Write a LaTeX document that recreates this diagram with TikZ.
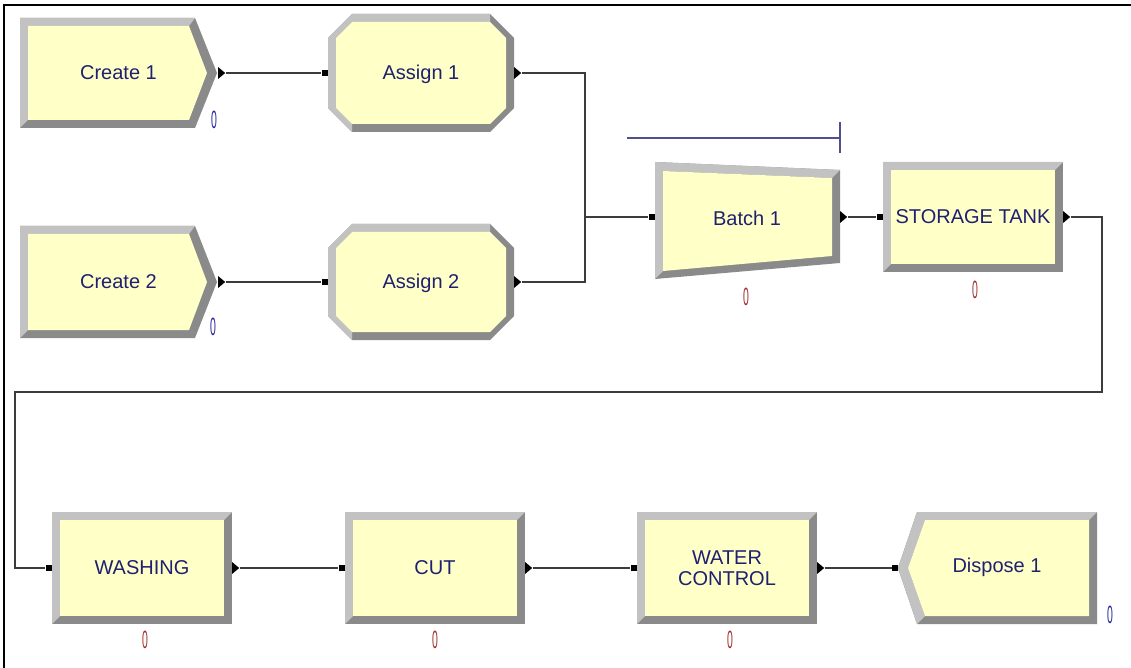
\documentclass[tikz,border=0pt]{standalone}
\usepackage{fontspec}
\setmainfont{Liberation Sans}
\usetikzlibrary{shapes.geometric}

\definecolor{modfill}{RGB}{255,255,200}
\definecolor{bevlight}{RGB}{194,194,194}
\definecolor{bevdark}{RGB}{138,138,138}
\definecolor{modblue}{RGB}{32,32,112}
\definecolor{cntred}{RGB}{160,48,48}
\definecolor{cntblue}{RGB}{40,40,160}
\definecolor{connline}{RGB}{60,60,60}
\definecolor{batchline}{RGB}{80,80,140}

% process box: name, x1, y1, x2, y2, text
\newcommand{\procmod}[6]{%
  \fill[bevdark] (#2,#3) rectangle (#4,#5);
  \fill[bevlight] (#2,#5) -- (#2,#3) -- (#4,#3) -- ({#4-8},{#3+8}) -- ({#2+8},{#3+8}) -- ({#2+8},{#5-8}) -- cycle;
  \fill[modfill] ({#2+8},{#3+8}) rectangle ({#4-8},{#5-8});
  \node[modtext] (#1) at ({(#2+#4)/2},{(#3+#5)/2}) {#6};
  \node[inport] (#1-in) at ({#2-3.5},{(#3+#5)/2}) {};
  \node[outport] (#1-out) at (#4,{(#3+#5)/2}) {};
}
% create: name, x1, y1, x of slant, x of tip, y2, text
\newcommand{\createmod}[7]{%
  \fill[bevdark] (#2,#3) -- (#4,#3) -- (#5,{(#3+#6)/2}) -- (#4,#6) -- (#2,#6) -- cycle;
  \fill[bevlight] (#2,#6) -- (#2,#3) -- (#4,#3) -- ({#4-6},{#3+8}) -- ({#2+8},{#3+8}) -- ({#2+8},{#6-8}) -- cycle;
  \fill[modfill] ({#2+8},{#3+8}) -- ({#4-6},{#3+8}) -- ({#5-10},{(#3+#6)/2}) -- ({#4-6},{#6-8}) -- ({#2+8},{#6-8}) -- cycle;
  \node[modtext] (#1) at ({(#2+#5)/2},{(#3+#6)/2}) {#7};
  \node[outport] (#1-out) at ({#5+1},{(#3+#6)/2}) {};
}
% assign: name, x1, y1, x2, y2, text
\newcommand{\assignmod}[6]{%
  \fill[bevdark] ({#2+24},#3) -- ({#4-24},#3) -- (#4,{#3+24}) -- (#4,{#5-24}) -- ({#4-24},#5) -- ({#2+24},#5) -- (#2,{#5-24}) -- (#2,{#3+24}) -- cycle;
  \fill[bevlight] ({#2+24},#5) -- (#2,{#5-24}) -- (#2,{#3+24}) -- ({#2+24},#3) -- ({#4-24},#3) -- ({#4-24},{#3+8}) -- ({#2+24},{#3+8}) -- ({#2+8},{#3+24}) -- ({#2+8},{#5-24}) -- ({#2+24},{#5-8}) -- cycle;
  \fill[modfill] ({#2+24},{#3+8}) -- ({#4-24},{#3+8}) -- ({#4-8},{#3+24}) -- ({#4-8},{#5-24}) -- ({#4-24},{#5-8}) -- ({#2+24},{#5-8}) -- ({#2+8},{#5-24}) -- ({#2+8},{#3+24}) -- cycle;
  \node[modtext] (#1) at ({(#2+#4)/2},{(#3+#5)/2+1}) {#6};
  \node[inport] (#1-in) at ({#2-3.5},{(#3+#5)/2}) {};
  \node[outport] (#1-out) at (#4,{(#3+#5)/2}) {};
}

\begin{document}
\begin{tikzpicture}[x=1pt, y=-1pt,
  modtext/.style={text=modblue, font=\fontsize{20}{21}\selectfont, align=center, inner sep=0pt},
  cnt/.style={font=\fontsize{25}{25}\selectfont, inner sep=0pt},
  inport/.style={fill=black, minimum size=6pt, inner sep=0pt},
  outport/.style={isosceles triangle, isosceles triangle apex angle=80, fill=black, minimum size=7pt, inner sep=0pt, anchor=west},
  conn/.style={draw=connline, line width=1.1pt}]
  \useasboundingbox (0,0) rectangle (1131,668);
  \draw[line width=2pt] (1131,5) -- (4,5) -- (4,668);

  % top row
  \createmod{create1}{20}{18}{195}{217}{128}{Create 1}
  \createmod{create2}{20}{226}{195}{217}{338}{Create 2}
  \assignmod{assign1}{328}{14}{514}{132}{Assign 1}
  \assignmod{assign2}{328}{224}{514}{340}{Assign 2}

  % batch
  \fill[bevdark] (655,162) -- (840,170) -- (840,263) -- (655,279) -- cycle;
  \fill[bevlight] (655,279) -- (655,162) -- (840,170) -- (832,178) -- (663,171) -- (663,271) -- cycle;
  \fill[modfill] (663,171) -- (832,178) -- (832,256) -- (663,271) -- cycle;
  \node[modtext] (batch1) at (747,218) {Batch 1};
  \node[inport] (batch1-in) at (651.5,217) {};
  \node[outport] (batch1-out) at (840,217) {};
  \coordinate (bar-l) at (627,138);
  \coordinate (bar-r) at (840,138);
  \draw[batchline, line width=1.2pt] (bar-l) -- (bar-r) ++(0,-16) -- ++(0,31);

  \procmod{tank}{883}{162}{1063}{272}{STORAGE TANK}

  % bottom row
  \procmod{washing}{52}{512}{232}{624}{WASHING}
  \procmod{cut}{345}{512}{525}{624}{CUT}
  \procmod{water}{637}{512}{817}{624}{WATER\\CONTROL}

  % dispose
  \fill[bevdark] (898,568) -- (917,512) -- (1097,512) -- (1097,624) -- (917,624) -- cycle;
  \fill[bevlight] (917,624) -- (898,568) -- (917,512) -- (1097,512) -- (1089,520) -- (925,520) -- (908,568) -- (925,616) -- cycle;
  \fill[modfill] (908,568) -- (925,520) -- (1089,520) -- (1089,616) -- (925,616) -- cycle;
  \node[modtext] (dispose1) at (997,567) {Dispose 1};
  \node[inport] (dispose1-in) at (895,568) {};

  % counters
  \node[cnt, text=cntblue] (create1-cnt) at (214,120) {\scalebox{0.42}[1]{0}};
  \node[cnt, text=cntblue] (create2-cnt) at (213,327) {\scalebox{0.42}[1]{0}};
  \node[cnt, text=cntred] (batch1-cnt) at (746,297) {\scalebox{0.42}[1]{0}};
  \node[cnt, text=cntred] (tank-cnt) at (975,290) {\scalebox{0.42}[1]{0}};
  \node[cnt, text=cntred] (washing-cnt) at (145,640) {\scalebox{0.42}[1]{0}};
  \node[cnt, text=cntred] (cut-cnt) at (435,640) {\scalebox{0.42}[1]{0}};
  \node[cnt, text=cntred] (water-cnt) at (730,640) {\scalebox{0.42}[1]{0}};
  \node[cnt, text=cntblue] (dispose1-cnt) at (1110,615) {\scalebox{0.42}[1]{0}};

  % connectors
  \coordinate (join) at (585,217);
  \coordinate (bend-r) at (1102,392);
  \coordinate (bend-l) at (15,392);
  \draw[conn] (create1-out) -- (assign1-in);
  \draw[conn] (create2-out) -- (assign2-in);
  \draw[conn] (assign1-out) -| (join) -- (batch1-in);
  \draw[conn] (assign2-out) -| (join);
  \draw[conn] (batch1-out) -- (tank-in);
  \draw[conn] (tank-out) -| (bend-r) -- (bend-l) |- (washing-in);
  \draw[conn] (washing-out) -- (cut-in);
  \draw[conn] (cut-out) -- (water-in);
  \draw[conn] (water-out) -- (dispose1-in);
\end{tikzpicture}
\end{document}
